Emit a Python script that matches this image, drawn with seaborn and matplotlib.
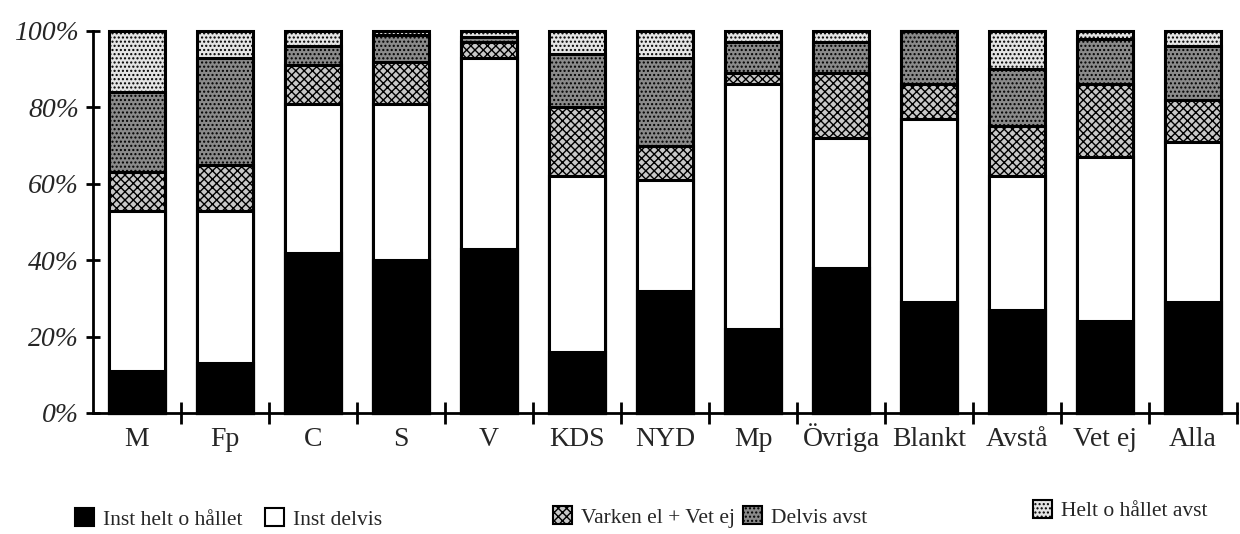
import numpy as np
import pandas as pd
import matplotlib.pyplot as plt
import matplotlib.patches as mpatches
from matplotlib.ticker import FixedLocator, PercentFormatter
import seaborn as sns

# Party groups and answer shares (%)
partier = ["M", "Fp", "C", "S", "V", "KDS", "NYD", "Mp", "Övriga", "Blankt", "Avstå", "Vet ej", "Alla"]
inst_helt = [11, 13, 42, 40, 43, 16, 32, 22, 38, 29, 27, 24, 29]
inst_delvis = [42, 40, 39, 41, 50, 46, 29, 64, 34, 48, 35, 43, 42]
varken = [10, 12, 10, 11, 4, 18, 9, 3, 17, 9, 13, 19, 11]
delvis_avst = [21, 28, 5, 7, 1.5, 14, 23, 8, 8, 14, 15, 12, 14]
helt_avst = [16, 7, 4, 1, 1.5, 6, 7, 3, 3, 0, 10, 2, 4]

serier = ["Inst helt o hållet", "Inst delvis", "Varken el + Vet ej", "Delvis avst", "Helt o hållet avst"]
df = pd.DataFrame({"parti": partier,
                   serier[0]: inst_helt, serier[1]: inst_delvis, serier[2]: varken,
                   serier[3]: delvis_avst, serier[4]: helt_avst})
vals = df[serier]
df[serier] = vals.div(vals.sum(axis=1), axis=0) * 100
cum = df[serier].cumsum(axis=1)

sns.set_style("white")
plt.rcParams["font.family"] = ["Liberation Serif", "DejaVu Serif"]
plt.rcParams["hatch.linewidth"] = 1.0

stil = {
    serier[0]: dict(color="black", hatch=None),
    serier[1]: dict(color="white", hatch=None),
    serier[2]: dict(color="#c8c8c8", hatch="xxxx"),
    serier[3]: dict(color="#8a8a8a", hatch="...."),
    serier[4]: dict(color="#e4e4e4", hatch="...."),
}

fig = plt.figure(figsize=(12.4, 5.34), dpi=100)
ax = fig.add_axes([0.075, 0.2266, 0.9226, 0.7154])

# overlap cumulative bars from the top series down
for s in reversed(serier):
    sns.barplot(x=df["parti"], y=cum[s], ax=ax, width=0.64, saturation=1,
                color=stil[s]["color"], hatch=stil[s]["hatch"],
                edgecolor="black", linewidth=2.2)
for p in ax.patches:
    p.set_clip_on(False)

ax.set_ylim(0, 100)
ax.set_xlim(-0.5, 12.5)
ax.set_xlabel("")
ax.set_ylabel("")
ax.yaxis.set_major_locator(FixedLocator([0, 20, 40, 60, 80, 100]))
ax.yaxis.set_major_formatter(PercentFormatter(decimals=0))
for t in ax.get_yticklabels():
    t.set_fontstyle("italic")
ax.tick_params(axis="y", left=True, direction="inout", length=10, width=2,
               labelsize=20, pad=5, color="black")
ax.xaxis.set_minor_locator(FixedLocator(np.arange(0.5, 13, 1)))
ax.tick_params(axis="x", which="major", bottom=True, length=0, labelsize=20, pad=24)
ax.tick_params(axis="x", which="minor", bottom=True, direction="inout", length=16,
               width=2, color="black")
for t in ax.get_xticklabels():
    t.set_verticalalignment("baseline")
sns.despine(ax=ax)
for sp in ("left", "bottom"):
    ax.spines[sp].set_linewidth(2)
    ax.spines[sp].set_color("black")

# legend entries placed like the original
pos = [(0.0605, 0.008), (0.2137, 0.008), (0.446, 0.012), (0.599, 0.012), (0.833, 0.024)]
for s, (lx, ly) in zip(serier, pos):
    h = mpatches.Patch(facecolor=stil[s]["color"], hatch=stil[s]["hatch"],
                       edgecolor="black", linewidth=1.5, label=s)
    fig.legend(handles=[h], loc="lower left", bbox_to_anchor=(lx, ly), frameon=False,
               fontsize=15.5, handlelength=0.9, handleheight=0.9, handletextpad=0.4,
               borderpad=0, borderaxespad=0)

plt.savefig("out.png", dpi=100)
